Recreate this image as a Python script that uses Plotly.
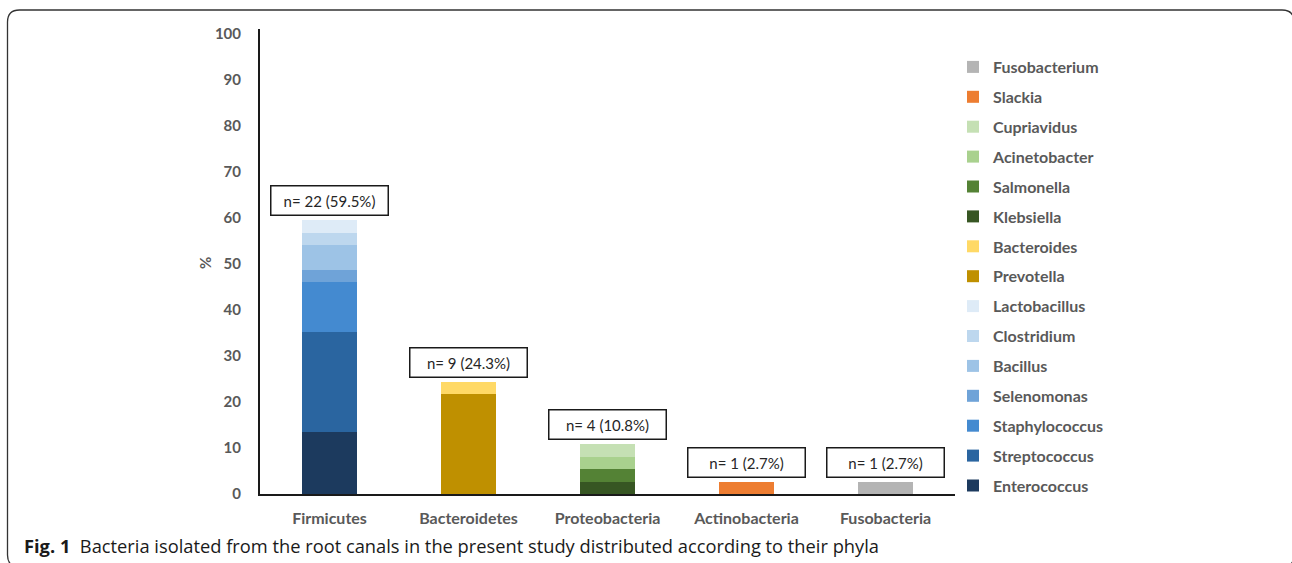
import plotly.graph_objects as go

# Phyla on the x axis
phyla = ["Firmicutes", "Bacteroidetes", "Proteobacteria", "Actinobacteria", "Fusobacteria"]
total_isolates = 37

# Genera, their phylum and number of isolates (stack order bottom -> top)
genus_names = ["Enterococcus", "Streptococcus", "Staphylococcus", "Selenomonas", "Bacillus",
               "Clostridium", "Lactobacillus", "Prevotella", "Bacteroides", "Klebsiella",
               "Salmonella", "Acinetobacter", "Cupriavidus", "Slackia", "Fusobacterium"]
genus_phylum = ["Firmicutes"] * 7 + ["Bacteroidetes"] * 2 + ["Proteobacteria"] * 4 + \
               ["Actinobacteria", "Fusobacteria"]
genus_counts = [5, 8, 4, 1, 2, 1, 1, 8, 1, 1, 1, 1, 1, 1, 1]
genus_colors = ["#1c3a5e", "#2a65a0", "#448ad0", "#6fa3d8", "#9dc3e6", "#bdd7ee", "#deebf7",
                "#bf9000", "#ffd966", "#375623", "#548235", "#a9d18e", "#c5e0b4",
                "#ed7d31", "#b4b4b4"]

W, H = 1292, 563
L, R, T, B = 260, 955, 29, 494
Y_MAX = 101

def px(x):
    return (x - L) / (R - L)

def py(y):
    return (B - y) / (B - T)

FONT = "Lato, Open Sans, sans-serif"
label_font = dict(family=FONT, size=16, color="#595959", weight="bold")
ytick_font = dict(family=FONT, size=15, color="#595959", weight="bold")

fig = go.Figure()
n_genera = len(genus_names)
for i, (name, phylum, count, color) in enumerate(zip(genus_names, genus_phylum,
                                                     genus_counts, genus_colors)):
    fig.add_trace(go.Bar(
        x=[phylum], y=[count / total_isolates * 100], name=name, legendgroup=name,
        legendrank=n_genera - i,
        marker=dict(color=color, line=dict(width=0)), width=0.4,
    ))

# Count / percentage boxes above each phylum bar
annotations = []
for phylum in phyla:
    n = sum(c for c, p in zip(genus_counts, genus_phylum) if p == phylum)
    pct = n / total_isolates * 100
    annotations.append(dict(
        x=phylum, y=pct, xref="x", yref="y", yanchor="bottom", yshift=4,
        text=f"n= {n} ({pct:.1f}%)", showarrow=False,
        font=dict(family=FONT, size=15, color="#262626"),
        bgcolor="white", bordercolor="#1a1a1a", borderwidth=1.5, borderpad=2,
        width=112, height=24, align="center",
    ))

# y axis title
annotations.append(dict(
    x=px(205), y=py(263), xref="paper", yref="paper", text="%", showarrow=False,
    textangle=-90, font=ytick_font, xanchor="center", yanchor="middle",
))

# Figure caption
annotations.append(dict(
    x=px(22), y=py(545), xref="paper", yref="paper", xanchor="left", yanchor="middle",
    showarrow=False,
    text="<b>Fig. 1</b>&nbsp;&nbsp;Bacteria isolated from the root canals in the present study "
         "distributed according to their phyla",
    font=dict(family="Open Sans, sans-serif", size=18.3, color="#1a1a1a"),
))

# Rounded frame around the figure
x0, y0, x1, y1, r = px(7.5), py(10), px(1294), py(567), 12
rx, ry = r / (R - L), r / (B - T)
frame = (f"M {x0 + rx},{y0} L {x1 - rx},{y0} Q {x1},{y0} {x1},{y0 - ry} "
         f"L {x1},{y1 + ry} Q {x1},{y1} {x1 - rx},{y1} "
         f"L {x0 + rx},{y1} Q {x0},{y1} {x0},{y1 + ry} "
         f"L {x0},{y0 - ry} Q {x0},{y0} {x0 + rx},{y0} Z")

fig.update_layout(
    width=W, height=H,
    margin=dict(l=L, r=W - R, t=T, b=H - B),
    paper_bgcolor="white", plot_bgcolor="white",
    barmode="stack", bargap=0.6,
    showlegend=True,
    legend=dict(
        x=px(953), y=py(50), xanchor="left", yanchor="top",
        traceorder="grouped", tracegroupgap=6.1,
        font=label_font, bgcolor="rgba(0,0,0,0)",
    ),
    xaxis=dict(
        categoryorder="array", categoryarray=phyla,
        showline=True, linecolor="#1a1a1a", linewidth=2,
        showgrid=False, ticks="", tickfont=label_font, ticklabelstandoff=9,
        fixedrange=True,
    ),
    yaxis=dict(
        range=[0, Y_MAX], tickvals=list(range(0, 101, 10)),
        showline=True, linecolor="#1a1a1a", linewidth=2,
        showgrid=False, zeroline=False, ticks="", tickfont=ytick_font,
        ticklabelstandoff=14, fixedrange=True,
    ),
    annotations=annotations,
    shapes=[dict(type="path", path=frame, xref="paper", yref="paper",
                 line=dict(color="#333333", width=1.3), fillcolor="rgba(0,0,0,0)")],
)

fig.write_html("out.html", config={"displayModeBar": False})
